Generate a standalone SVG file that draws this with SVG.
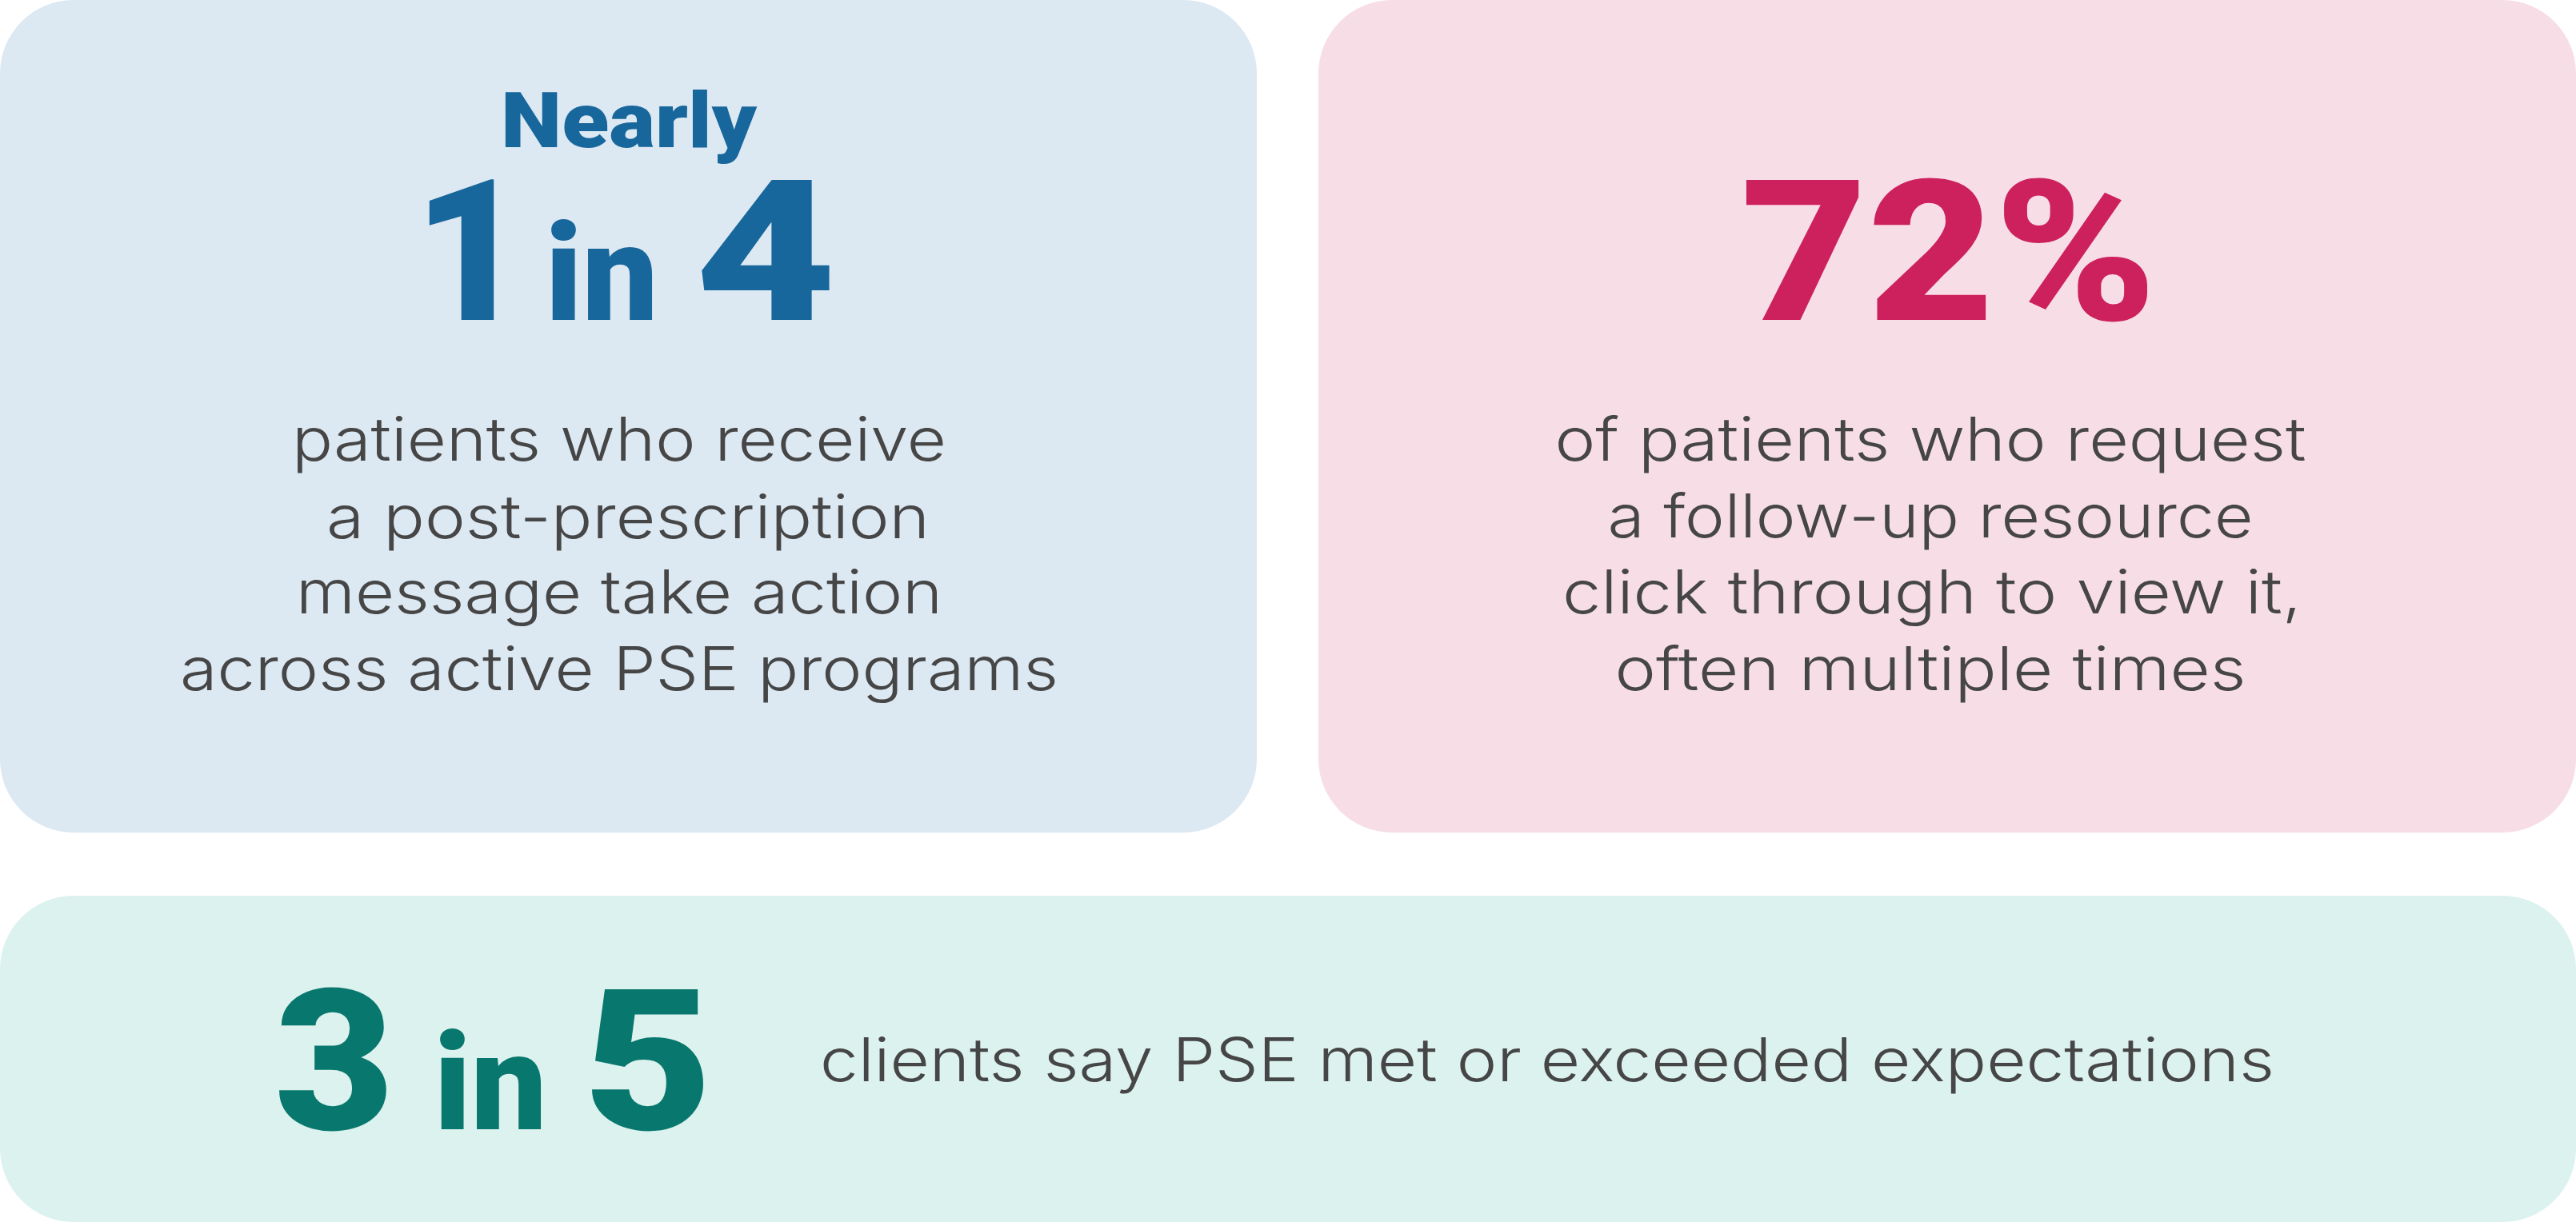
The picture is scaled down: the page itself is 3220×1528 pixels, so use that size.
<svg xmlns="http://www.w3.org/2000/svg" width="3220" height="1528" viewBox="0 0 3220 1528">
  <style>
    .big { font-family: Roboto, Inter, "Liberation Sans", sans-serif; font-weight: 900; }
    .body { font-family: Inter, "Noto Sans", "Liberation Sans", sans-serif; font-weight: 300; font-size: 75px; fill: #464646; }
    .blue { fill: #18679c; }
    .pink { fill: #cd215e; }
    .teal { fill: #08786e; }
  </style>
  <rect width="3220" height="1528" fill="#ffffff"/>
  <g id="card-1in4">
    <rect x="0" y="0" width="1571" height="1041" rx="92" fill="#dce8f2"/>
    <text class="big blue" x="786" y="184" font-size="96" text-anchor="middle" textLength="320" lengthAdjust="spacingAndGlyphs">Nearly</text>
    <text class="big blue" x="588" y="400" font-size="246" text-anchor="middle">1</text>
    <text class="big blue" x="752" y="400" font-size="168" text-anchor="middle">in</text>
    <text class="big blue" x="957" y="400" font-size="246" text-anchor="middle" textLength="177" lengthAdjust="spacingAndGlyphs">4</text>
    <text class="body" x="774" y="576" text-anchor="middle" textLength="818" lengthAdjust="spacingAndGlyphs">patients who receive</text>
    <text class="body" x="785" y="673" text-anchor="middle" textLength="754" lengthAdjust="spacingAndGlyphs">a post-prescription</text>
    <text class="body" x="774" y="767" text-anchor="middle" textLength="808" lengthAdjust="spacingAndGlyphs">message take action</text>
    <text class="body" x="774" y="863" text-anchor="middle" textLength="1098" lengthAdjust="spacingAndGlyphs">across active PSE programs</text>
  </g>
  <g id="card-72">
    <rect x="1648" y="0" width="1572" height="1041" rx="92" fill="#f7dee6"/>
    <text class="big pink" x="2436" y="400" font-size="246" text-anchor="middle" textLength="520" lengthAdjust="spacingAndGlyphs">72%</text>
    <text class="body" x="2413" y="576" text-anchor="middle" textLength="939" lengthAdjust="spacingAndGlyphs">of patients who request</text>
    <text class="body" x="2413" y="672" text-anchor="middle" textLength="807" lengthAdjust="spacingAndGlyphs">a follow-up resource</text>
    <text class="body" x="2415" y="767" text-anchor="middle" textLength="924" lengthAdjust="spacingAndGlyphs">click through to view it,</text>
    <text class="body" x="2413" y="863" text-anchor="middle" textLength="789" lengthAdjust="spacingAndGlyphs">often multiple times</text>
  </g>
  <g id="card-3in5">
    <rect x="0" y="1120" width="3220" height="408" rx="92" fill="#dcf2ee"/>
    <text class="big teal" x="418" y="1412" font-size="246" text-anchor="middle" textLength="150" lengthAdjust="spacingAndGlyphs">3</text>
    <text class="big teal" x="613" y="1412" font-size="168" text-anchor="middle">in</text>
    <text class="big teal" x="810" y="1412" font-size="246" text-anchor="middle" textLength="162" lengthAdjust="spacingAndGlyphs">5</text>
    <text class="body" x="1025" y="1352" font-size="77" textLength="1818" lengthAdjust="spacingAndGlyphs">clients say PSE met or exceeded expectations</text>
  </g>
  <g id="connectors"/>
</svg>
